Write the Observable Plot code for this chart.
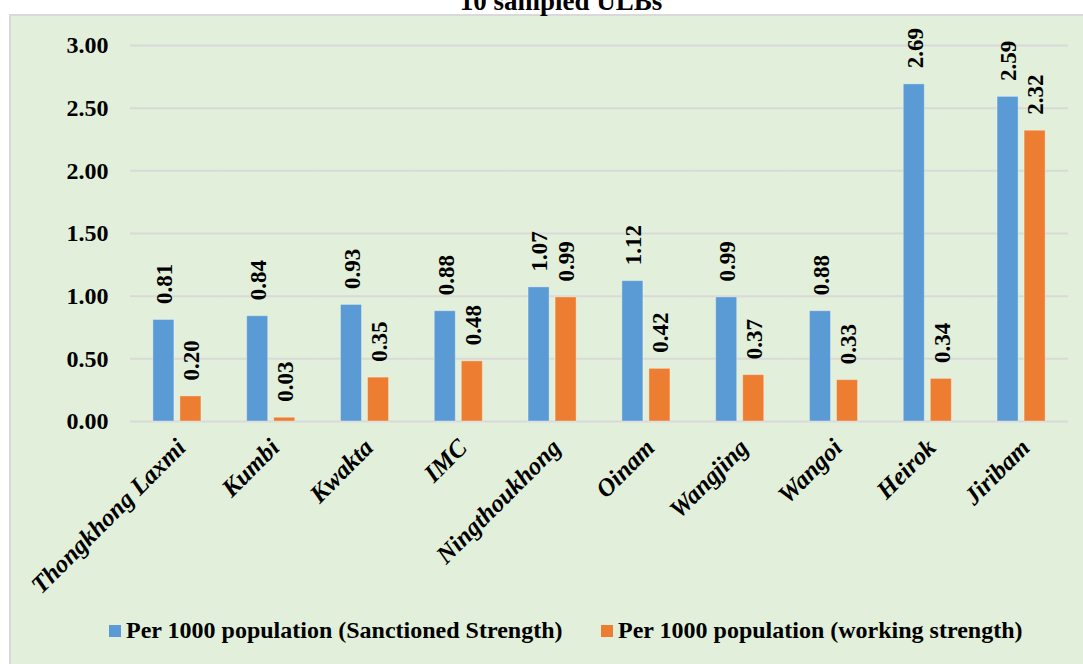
<!DOCTYPE html>
<html>
<head>
<meta charset="utf-8">
<script src="https://cdn.jsdelivr.net/npm/d3@7"></script>
<script src="https://cdn.jsdelivr.net/npm/@observablehq/plot@0.6"></script>
<style>
  html, body { margin: 0; padding: 0; background: #ffffff; overflow: hidden; }
  body { width: 1083px; height: 664px; position: relative; font-family: "Liberation Serif", "Times New Roman", serif; }
  #title { position: absolute; z-index: 5; left: 0; width: 1122px; top: -12px; text-align: center; font-weight: bold; font-size: 27px; line-height: 27px; color: #000; }
  #panel { position: absolute; left: 9px; top: 14px; width: 1100px; height: 700px; background: #e2efda; border-left: 2px solid #d9d9d9; border-top: 2px solid #d9d9d9; }
  #chart { position: absolute; left: 0; top: 0; }
  .legend-item { position: absolute; top: 615px; font-weight: bold; font-size: 24px; line-height: 30px; color: #000; white-space: nowrap; }
  .sw { display: inline-block; width: 12px; height: 12px; margin-right: 5px; vertical-align: 1px; }
</style>
</head>
<body>
<div id="title">10 sampled ULBs</div>
<div id="panel"></div>
<div id="chart"></div>
<div id="legend"></div>
<script>
const categories = ["Thongkhong Laxmi", "Kumbi", "Kwakta", "IMC", "Ningthoukhong", "Oinam", "Wangjing", "Wangoi", "Heirok", "Jiribam"];
const seriesNames = ["Per 1000 population (Sanctioned Strength)", "Per 1000 population (working strength)"];
const sanctioned = [0.81, 0.84, 0.93, 0.88, 1.07, 1.12, 0.99, 0.88, 2.69, 2.59];
const working = [0.20, 0.03, 0.35, 0.48, 0.99, 0.42, 0.37, 0.33, 0.34, 2.32];
const yTicks = [0, 0.5, 1, 1.5, 2, 2.5, 3];
const colors = ["#5b9bd5", "#ed7d31"];

const data = [];
categories.forEach((c, i) => {
  data.push({category: c, series: seriesNames[0], value: sanctioned[i]});
  data.push({category: c, series: seriesNames[1], value: working[i]});
});

const fmt = d3.format(".2f");
const font = "'Liberation Serif', 'Times New Roman', serif";

const chart = Plot.plot({
  width: 1083,
  height: 596,
  marginLeft: 130,
  marginRight: 15,
  marginTop: 45,
  marginBottom: 175,
  style: { background: "transparent", fontFamily: font, color: "#000" },
  fx: { domain: categories, padding: 0, round: false, label: null },
  x: { domain: seriesNames, paddingInner: 0.222, paddingOuter: 0.846, round: false, axis: null },
  y: { domain: [0, 3], ticks: yTicks, label: null },
  color: { domain: seriesNames, range: colors },
  marks: [
    Plot.gridY(yTicks, { stroke: "#d9d9d9", strokeOpacity: 1, strokeWidth: 2 }),
    Plot.axisY(yTicks, { tickSize: 0, tickPadding: 22, tickFormat: fmt, fontSize: 24, fontWeight: "bold", label: null }),
    Plot.axisFx({ anchor: "bottom", tickSize: 0, tickRotate: -45, fontSize: 25, fontWeight: "bold", fontStyle: "italic", tickPadding: 22, dx: 4, label: null }),
    Plot.barY(data, { fx: "category", x: "series", y: "value", fill: "series", stroke: "#ffffff", strokeOpacity: 0.35, strokeWidth: 1 }),
    Plot.text(data, { fx: "category", x: "series", y: "value", text: d => fmt(d.value), rotate: -90, textAnchor: "start", dx: 1, dy: -16, fontSize: 23, fontWeight: "bold", fill: "#000" })
  ]
});
document.getElementById("chart").appendChild(chart);

const legend = document.getElementById("legend");
const lefts = [109, 601];
seriesNames.forEach((s, i) => {
  const item = document.createElement("div");
  item.className = "legend-item";
  item.style.left = lefts[i] + "px";
  const sw = document.createElement("span");
  sw.className = "sw";
  sw.style.background = colors[i];
  item.appendChild(sw);
  item.appendChild(document.createTextNode(s));
  legend.appendChild(item);
});
</script>
</body>
</html>
